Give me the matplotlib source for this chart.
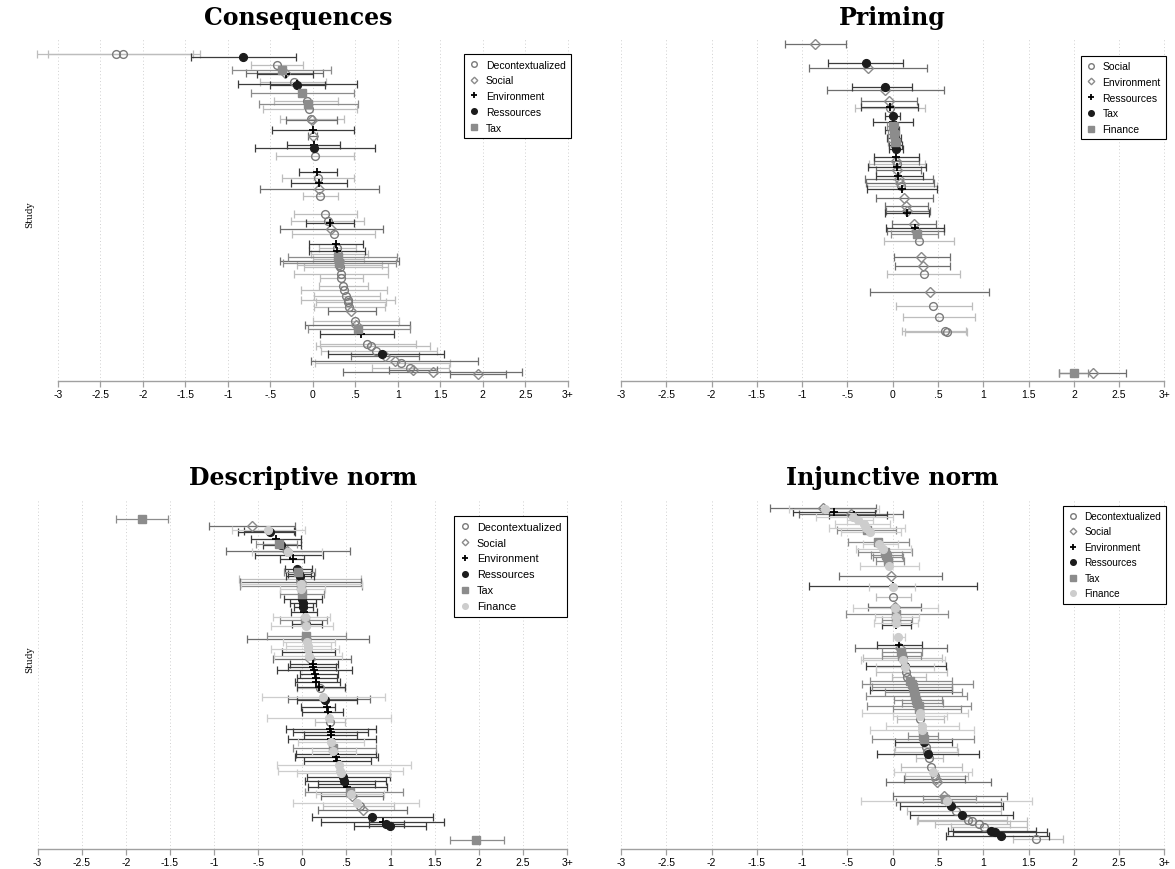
import matplotlib
matplotlib.use("Agg")
import matplotlib.pyplot as plt
from matplotlib.lines import Line2D
import numpy as np

# ---- data: study position from top, estimate, CI low, CI high, group ----
cons_groups = ["Decontextualized", "Social", "Environment", "Ressources", "Tax"]
cons_pos = [15, 15, 18, 26, 31, 34, 35, 43, 45, 46, 54, 62, 65, 70, 80, 81, 91, 97, 106, 109,
            117, 133, 139, 144, 150, 157, 175, 182, 184, 190, 195, 205, 209, 212, 215, 218, 220,
            222, 224, 226, 228, 235, 239, 247, 251, 257, 261, 263, 268, 272, 282, 286, 290, 295,
            305, 307, 312, 315, 317, 322, 324, 329, 331, 333, 335]
cons_est = [-2.32, -2.23, -0.82, -0.42, -0.36, -0.33, -0.32, -0.22, -0.19, -0.18, -0.13, -0.07,
            -0.05, -0.04, -0.02, -0.01, 0.00, 0.00, 0.01, 0.02, 0.03, 0.05, 0.06, 0.07, 0.07, 0.08,
            0.15, 0.18, 0.20, 0.22, 0.25, 0.27, 0.29, 0.29, 0.30, 0.30, 0.30, 0.31, 0.31, 0.31,
            0.32, 0.33, 0.33, 0.36, 0.37, 0.39, 0.41, 0.42, 0.43, 0.45, 0.50, 0.51, 0.53, 0.57,
            0.64, 0.68, 0.75, 0.82, 0.85, 0.97, 1.04, 1.15, 1.18, 1.41, 1.94]
cons_lo = [-3.24, -3.12, -1.43, -0.73, -0.95, -0.78, -0.66, -0.62, -0.88, -0.50, -0.73, -0.46,
           -0.63, -0.59, -0.39, -0.32, -0.48, -0.05, -0.30, -0.68, -0.43, -0.16, -0.36, -0.25,
           -0.62, -0.12, -0.22, -0.26, -0.08, -0.39, -0.24, -0.04, 0.07, -0.04, -0.02, -0.29,
           0.00, -0.39, -0.35, -0.19, -0.10, -0.22, 0.08, 0.07, -0.14, 0.01, -0.14, 0.04, 0.01,
           0.18, 0.00, -0.09, -0.05, 0.08, 0.09, 0.04, 0.10, 0.18, 0.45, -0.02, 0.03, 0.70, 0.90,
           0.36, 1.62]
cons_hi = [-1.41, -1.33, -0.20, -0.12, 0.22, 0.12, 0.00, 0.16, 0.52, 0.14, 0.48, 0.30, 0.53,
           0.52, 0.37, 0.28, 0.48, 0.05, 0.32, 0.73, 0.48, 0.28, 0.48, 0.40, 0.78, 0.30, 0.52,
           0.60, 0.48, 0.83, 0.73, 0.59, 0.51, 0.62, 0.65, 0.99, 0.60, 1.02, 0.98, 0.82, 0.88,
           0.88, 0.59, 0.65, 0.87, 0.79, 0.97, 0.86, 0.85, 0.74, 1.01, 1.14, 1.15, 0.96, 1.22,
           1.38, 1.46, 1.55, 1.25, 1.94, 1.62, 1.60, 1.46, 2.46, 2.27]
cons_grp = ["Decontextualized", "Decontextualized", "Ressources", "Decontextualized", "Tax",
            "Social", "Environment", "Decontextualized", "Environment", "Ressources", "Tax",
            "Decontextualized", "Tax", "Decontextualized", "Decontextualized", "Social",
            "Environment", "Social", "Environment", "Ressources", "Decontextualized",
            "Environment", "Decontextualized", "Environment", "Social", "Decontextualized",
            "Decontextualized", "Decontextualized", "Environment", "Social", "Decontextualized",
            "Environment", "Decontextualized", "Environment", "Decontextualized", "Tax",
            "Decontextualized", "Social", "Tax", "Decontextualized", "Decontextualized",
            "Decontextualized", "Decontextualized", "Decontextualized", "Decontextualized",
            "Decontextualized", "Decontextualized", "Decontextualized", "Decontextualized",
            "Social", "Decontextualized", "Social", "Tax", "Environment", "Decontextualized",
            "Decontextualized", "Decontextualized", "Ressources", "Social", "Social",
            "Decontextualized", "Decontextualized", "Social", "Social", "Social"]

prim_groups = ["Social", "Environment", "Ressources", "Tax", "Finance"]
prim_pos = [5, 24, 29, 48, 51, 62, 68, 69, 77, 83, 87, 91, 95, 99, 103, 106, 110, 118, 122,
            125, 128, 131, 137, 140, 144, 147, 150, 159, 167, 172, 174, 185, 189, 192, 195, 202,
            218, 227, 235, 253, 267, 278, 292, 293, 334, 334]
prim_est = [-0.86, -0.30, -0.27, -0.09, -0.08, -0.04, -0.03, -0.03, 0.00, 0.00, 0.00, 0.01,
            0.01, 0.02, 0.02, 0.03, 0.035, 0.04, 0.04, 0.045, 0.05, 0.05, 0.06, 0.07, 0.08, 0.09,
            0.10, 0.125, 0.15, 0.155, 0.16, 0.23, 0.25, 0.26, 0.27, 0.29, 0.31, 0.33, 0.34, 0.41,
            0.45, 0.51, 0.58, 0.60, 2.00, 2.21]
prim_lo = [-1.19, -0.72, -0.92, -0.45, -0.73, -0.35, -0.35, -0.42, -0.08, -0.22, -0.06, -0.08,
           -0.05, -0.06, -0.05, -0.04, -0.04, -0.21, -0.21, -0.26, -0.27, -0.19, -0.18, -0.31,
           -0.29, -0.28, -0.28, -0.19, -0.09, -0.07, -0.08, -0.01, -0.07, -0.06, -0.02, -0.10,
           0.01, 0.02, -0.06, -0.25, 0.04, 0.11, 0.10, 0.13, 1.84, 1.84]
prim_hi = [-0.52, 0.11, 0.38, 0.21, 0.57, 0.27, 0.28, 0.36, 0.08, 0.22, 0.06, 0.07, 0.07, 0.09,
           0.08, 0.10, 0.11, 0.29, 0.29, 0.36, 0.37, 0.31, 0.33, 0.45, 0.46, 0.49, 0.49, 0.45,
           0.39, 0.41, 0.40, 0.475, 0.57, 0.57, 0.50, 0.68, 0.63, 0.63, 0.74, 1.06, 0.87, 0.91,
           0.81, 0.82, 2.16, 2.58]
prim_grp = ["Environment", "Tax", "Environment", "Tax", "Environment", "Environment",
            "Ressources", "Social", "Tax", "Ressources", "Finance", "Tax", "Finance", "Tax",
            "Finance", "Tax", "Tax", "Ressources", "Environment", "Social", "Ressources",
            "Environment", "Ressources", "Environment", "Environment", "Social", "Ressources",
            "Environment", "Environment", "Environment", "Ressources", "Environment",
            "Ressources", "Environment", "Finance", "Social", "Environment", "Environment",
            "Social", "Environment", "Social", "Social", "Social", "Social", "Finance",
            "Environment"]

desc_groups = ["Decontextualized", "Social", "Environment", "Ressources", "Tax", "Finance"]
desc_pos = [20, 27, 31, 32, 33, 40, 45, 46, 52, 53, 56, 60, 70, 73, 75, 77, 80, 83, 85, 87, 90,
            95, 100, 104, 108, 113, 118, 121, 125, 127, 137, 140, 143, 147, 150, 153, 157, 160,
            165, 168, 171, 175, 179, 183, 188, 189, 198, 200, 201, 208, 213, 219, 223, 230, 233,
            236, 240, 243, 249, 252, 255, 258, 262, 266, 272, 274, 278, 282, 285, 288, 293, 295,
            297, 304, 307, 311, 318, 323, 325, 327, 341]
desc_est = [-1.82, -0.57, -0.39, -0.38, -0.37, -0.30, -0.26, -0.24, -0.17, -0.16, -0.14, -0.11,
            -0.06, -0.05, -0.04, -0.03, -0.03, -0.02, -0.02, -0.02, -0.01, 0.00, 0.00, 0.01,
            0.01, 0.02, 0.03, 0.03, 0.04, 0.04, 0.04, 0.04, 0.05, 0.06, 0.07, 0.08, 0.08, 0.09,
            0.12, 0.12, 0.13, 0.14, 0.15, 0.16, 0.19, 0.20, 0.24, 0.25, 0.26, 0.28, 0.29, 0.30,
            0.31, 0.31, 0.32, 0.32, 0.33, 0.33, 0.35, 0.35, 0.37, 0.38, 0.39, 0.42, 0.43, 0.44,
            0.46, 0.47, 0.48, 0.51, 0.54, 0.55, 0.56, 0.62, 0.65, 0.69, 0.79, 0.91, 0.95, 0.99,
            1.97]
desc_lo = [-2.11, -1.06, -0.80, -0.66, -0.73, -0.58, -0.52, -0.45, -0.86, -0.57, -0.54, -0.25,
           -0.20, -0.21, -0.16, -0.18, -0.72, -0.71, -0.70, -0.71, -0.25, -0.25, -0.21, -0.14,
           -0.09, -0.13, -0.33, -0.25, -0.12, -0.36, -0.40, -0.63, -0.22, -0.18, -0.35, -0.23,
           -0.32, -0.33, -0.14, -0.16, -0.29, -0.03, -0.06, -0.08, -0.06, -0.06, -0.46, -0.16,
           -0.06, -0.01, 0.00, -0.40, 0.14, -0.18, -0.10, 0.02, -0.16, -0.05, -0.10, 0.11, -0.07,
           -0.08, 0.02, -0.29, -0.27, -0.06, 0.05, 0.03, 0.18, 0.07, 0.03, 0.15, 0.21, -0.10,
           0.24, 0.18, 0.11, 0.21, 0.76, 0.59, 1.67]
desc_hi = [-1.52, -0.08, 0.03, -0.09, -0.08, -0.01, -0.06, -0.02, 0.54, 0.22, 0.24, 0.02, 0.11,
           0.14, 0.10, 0.13, 0.67, 0.67, 0.68, 0.68, 0.26, 0.25, 0.22, 0.16, 0.12, 0.17, 0.31,
           0.28, 0.22, 0.35, 0.50, 0.76, 0.37, 0.33, 0.42, 0.37, 0.45, 0.55, 0.40, 0.38, 0.56,
           0.40, 0.39, 0.43, 0.48, 0.48, 0.94, 0.77, 0.62, 0.37, 0.46, 1.00, 0.48, 0.83, 0.75,
           0.62, 0.84, 0.70, 0.84, 0.61, 0.84, 0.86, 0.78, 1.23, 1.14, 0.99, 0.99, 0.95, 0.82,
           0.96, 1.14, 0.93, 0.91, 1.32, 1.04, 1.19, 1.48, 1.60, 1.15, 1.40, 2.28]
desc_grp = ["Tax", "Social", "Finance", "Environment", "Ressources", "Environment", "Tax",
            "Ressources", "Social", "Finance", "Environment", "Environment", "Ressources", "Tax",
            "Ressources", "Ressources", "Decontextualized", "Social", "Finance", "Tax",
            "Finance", "Tax", "Ressources", "Ressources", "Ressources", "Environment", "Finance",
            "Tax", "Ressources", "Finance", "Tax", "Social", "Finance", "Finance", "Finance",
            "Environment", "Finance", "Social", "Environment", "Environment", "Environment",
            "Environment", "Environment", "Environment", "Environment", "Decontextualized",
            "Finance", "Social", "Ressources", "Environment", "Environment", "Finance",
            "Decontextualized", "Environment", "Environment", "Environment", "Environment",
            "Finance", "Tax", "Finance", "Environment", "Environment", "Environment", "Finance",
            "Finance", "Finance", "Ressources", "Ressources", "Environment", "Environment",
            "Tax", "Finance", "Social", "Finance", "Decontextualized", "Social", "Ressources",
            "Environment", "Ressources", "Ressources", "Tax"]

inj_groups = ["Decontextualized", "Social", "Environment", "Ressources", "Tax", "Finance"]
inj_pos = [9, 10, 13, 15, 16, 18, 21, 25, 29, 31, 33, 43, 45, 50, 53, 56, 58, 62, 67, 77, 87, 88,
           98, 108, 109, 115, 118, 121, 124, 126, 138, 146, 149, 153, 157, 159, 161, 167, 168,
           173, 178, 182, 185, 188, 191, 193, 197, 201, 204, 207, 210, 214, 217, 220, 227, 231,
           237, 240, 243, 248, 253, 255, 259, 268, 273, 277, 280, 283, 297, 300, 302, 303, 307,
           312, 316, 321, 322, 325, 328, 332, 333, 337, 340]
inj_est = [-0.77, -0.75, -0.65, -0.46, -0.43, -0.44, -0.38, -0.32, -0.30, -0.28, -0.25, -0.16,
           -0.15, -0.11, -0.08, -0.07, -0.06, -0.05, -0.04, -0.02, 0.00, 0.00, 0.00, 0.02, 0.02,
           0.04, 0.04, 0.04, 0.04, 0.04, 0.06, 0.07, 0.08, 0.09, 0.10, 0.11, 0.11, 0.14, 0.14,
           0.15, 0.16, 0.19, 0.21, 0.22, 0.23, 0.24, 0.25, 0.26, 0.27, 0.285, 0.29, 0.30, 0.30,
           0.30, 0.32, 0.32, 0.335, 0.34, 0.35, 0.37, 0.38, 0.39, 0.40, 0.42, 0.44, 0.47, 0.48,
           0.49, 0.57, 0.58, 0.60, 0.61, 0.645, 0.70, 0.76, 0.83, 0.88, 0.95, 1.01, 1.09, 1.13,
           1.20, 1.58]
inj_lo = [-1.36, -1.15, -1.10, -1.03, -0.70, -0.85, -0.51, -0.64, -0.70, -0.62, -0.57, -0.49,
          -0.33, -0.41, -0.38, -0.24, -0.22, -0.19, -0.36, -0.59, -0.92, -0.26, -0.19, -0.27,
          -0.44, -0.52, -0.20, -0.12, -0.21, -0.12, 0.00, -0.17, -0.42, -0.12, -0.12, -0.33,
          -0.35, -0.29, -0.18, -0.19, -0.01, -0.25, -0.34, -0.23, -0.25, -0.09, -0.30, 0.01,
          0.10, -0.28, 0.00, -0.34, 0.00, 0.05, -0.07, -0.25, 0.17, -0.23, 0.03, 0.03, 0.01,
          -0.17, 0.26, 0.09, 0.01, 0.13, 0.12, -0.07, 0.00, 0.33, -0.35, 0.04, 0.08, 0.16, 0.19,
          0.28, 0.27, 0.47, 0.64, 0.61, 0.67, 0.59, 1.33]
inj_hi = [-0.19, -0.15, -0.20, 0.11, -0.06, 0.00, -0.22, -0.03, 0.13, 0.04, 0.09, 0.18, 0.06,
          0.20, 0.21, 0.10, 0.11, 0.12, 0.29, 0.54, 0.93, 0.25, 0.20, 0.31, 0.50, 0.61, 0.29,
          0.21, 0.28, 0.20, 0.14, 0.32, 0.60, 0.32, 0.31, 0.54, 0.58, 0.59, 0.46, 0.60, 0.37,
          0.65, 0.89, 0.65, 0.65, 0.77, 0.82, 0.54, 0.55, 0.86, 0.75, 0.83, 0.60, 0.57, 0.73,
          0.90, 0.50, 0.90, 0.65, 0.71, 0.72, 0.95, 0.55, 0.76, 0.88, 0.83, 0.80, 1.08, 1.26,
          0.92, 1.54, 1.20, 1.22, 1.20, 1.33, 1.26, 1.48, 1.30, 1.48, 1.58, 1.70, 1.73, 1.88]
inj_grp = ["Social", "Finance", "Environment", "Social", "Environment", "Finance", "Finance",
           "Finance", "Finance", "Tax", "Finance", "Tax", "Finance", "Finance", "Tax", "Tax",
           "Tax", "Tax", "Finance", "Social", "Environment", "Finance", "Decontextualized",
           "Social", "Finance", "Tax", "Finance", "Tax", "Finance", "Environment", "Finance",
           "Environment", "Social", "Tax", "Tax", "Decontextualized", "Finance", "Ressources",
           "Finance", "Decontextualized", "Decontextualized", "Tax", "Tax", "Tax", "Ressources",
           "Tax", "Tax", "Tax", "Tax", "Tax", "Tax", "Finance", "Finance", "Decontextualized",
           "Finance", "Finance", "Tax", "Tax", "Ressources", "Decontextualized",
           "Decontextualized", "Ressources", "Decontextualized", "Decontextualized", "Finance",
           "Decontextualized", "Social", "Social", "Social", "Tax", "Finance", "Social",
           "Ressources", "Decontextualized", "Ressources", "Decontextualized",
           "Decontextualized", "Decontextualized", "Decontextualized", "Ressources",
           "Ressources", "Ressources", "Decontextualized"]

tick_vals = [-3, -2.5, -2, -1.5, -1, -0.5, 0, 0.5, 1, 1.5, 2, 2.5, 3]
tick_labels = ["-3", "-2.5", "-2", "-1.5", "-1", "-.5", "0", ".5", "1", "1.5", "2", "2.5", "3+"]

# marker style by position of the group in each panel's legend
styles = [
    dict(marker="o", mfc="none", mec="#7a7a7a", ms=5.6, mew=1.0, ecol="#bdbdbd"),
    dict(marker="D", mfc="none", mec="#8a8a8a", ms=4.6, mew=1.0, ecol="#6e6e6e"),
    dict(marker="+", mfc="black", mec="black", ms=6.0, mew=1.3, ecol="#3c3c3c"),
    dict(marker="o", mfc="#1c1c1c", mec="#1c1c1c", ms=5.6, mew=1.0, ecol="#3c3c3c"),
    dict(marker="s", mfc="#8c8c8c", mec="#8c8c8c", ms=5.2, mew=1.0, ecol="#8c8c8c"),
    dict(marker="o", mfc="#cdcdcd", mec="#cdcdcd", ms=5.6, mew=1.0, ecol="#cdcdcd"),
]

W, H = 1175, 870
fig = plt.figure(figsize=(W / 100, H / 100), dpi=100)


def panel(rect_px, xlim, ylim_h, title, title_xy, groups, pos, est, lo, hi, grp, leg_anchor,
          leg_size, ylabel_xy=None):
    x0, y0, x1, y1 = rect_px
    ax = fig.add_axes([x0 / W, 1 - y1 / H, (x1 - x0) / W, (y1 - y0) / H])
    pos = np.array(pos, float)
    est = np.array(est, float)
    lo = np.array(lo, float)
    hi = np.array(hi, float)
    grp = np.array(grp)
    for v in tick_vals:
        ax.axvline(v, color="#d0d0d0", lw=0.7, ls=(0, (1, 2.5)), zorder=0)
    for k, g in enumerate(groups):
        st = styles[k]
        m = grp == g
        if not m.any():
            continue
        ax.errorbar(est[m], pos[m], xerr=[est[m] - lo[m], hi[m] - est[m]], fmt="none",
                    ecolor=st["ecol"], elinewidth=0.9, capsize=2.6, capthick=0.9, zorder=2,
                    clip_on=False)
    for k, g in enumerate(groups):
        st = styles[k]
        m = grp == g
        if not m.any():
            continue
        ax.plot(est[m], pos[m], ls="none", marker=st["marker"], mfc=st["mfc"], mec=st["mec"],
                ms=st["ms"], mew=st["mew"], zorder=3, clip_on=False)
    ax.set_xlim(*xlim)
    ax.set_ylim(ylim_h, 0)
    ax.set_yticks([])
    for s in ["left", "right", "top"]:
        ax.spines[s].set_visible(False)
    ax.spines["bottom"].set_color("#a0a0a0")
    ax.spines["bottom"].set_linewidth(1.0)
    ax.spines["bottom"].set_bounds(-3, 3)
    ax.set_xticks(tick_vals)
    ax.set_xticklabels(tick_labels, fontsize=7.5, family="Liberation Sans")
    ax.tick_params(axis="x", length=4, width=0.9, color="#a0a0a0", pad=2)
    ax.patch.set_alpha(0)
    handles = [Line2D([], [], ls="none", marker=styles[k]["marker"], mfc=styles[k]["mfc"],
                      mec=styles[k]["mec"], ms=styles[k]["ms"] * 0.72, mew=styles[k]["mew"])
               for k in range(len(groups))]
    leg = ax.legend(handles, groups, loc="upper right", bbox_to_anchor=leg_anchor,
                    prop={"family": "Liberation Sans", "size": leg_size}, frameon=True,
                    fancybox=False, framealpha=1, edgecolor="black", borderpad=0.5,
                    handlelength=1.0, handletextpad=0.6, labelspacing=0.55, borderaxespad=0)
    leg.get_frame().set_linewidth(0.8)
    fig.text(title_xy[0] / W, 1 - title_xy[1] / H, title, ha="center", va="center",
             family="DejaVu Serif", fontweight="bold", fontsize=17)
    if ylabel_xy is not None:
        fig.text(ylabel_xy[0] / W, 1 - ylabel_xy[1] / H, "Study", rotation=90, ha="center",
                 va="center", family="DejaVu Serif", fontsize=6.5)
    return ax


panel((36.5, 40, 572, 382), (-3.25, 3.05), 342, "Consequences", (298, 18), cons_groups,
      cons_pos, cons_est, cons_lo, cons_hi, cons_grp, (0.998, 0.955), 7.5, ylabel_xy=(30, 215))
panel((621, 40, 1169, 382), (-3.0, 3.05), 342, "Priming", (892, 18), prim_groups,
      prim_pos, prim_est, prim_lo, prim_hi, prim_grp, (0.9945, 0.95), 7.5)
panel((37.5, 500, 571.5, 850), (-3.0, 3.05), 350, "Descriptive norm", (303, 478), desc_groups,
      desc_pos, desc_est, desc_lo, desc_hi, desc_grp, (0.991, 0.951), 7.8, ylabel_xy=(30, 660))
panel((621, 500, 1169, 850), (-3.0, 3.05), 350, "Injunctive norm", (892, 478), inj_groups,
      inj_pos, inj_est, inj_lo, inj_hi, inj_grp, (0.9945, 0.98), 7.2)

fig.savefig("out.png", dpi=100, facecolor="white")
